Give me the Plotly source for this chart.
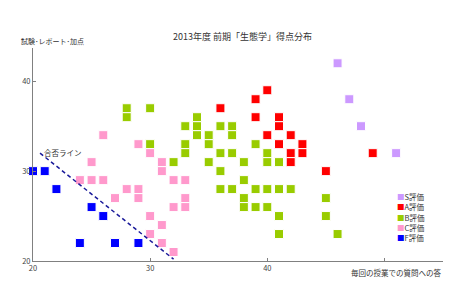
import plotly.graph_objects as go

# ---- data ----
S_x = [46, 47, 48, 51]
S_y = [42, 38, 35, 32]

A_x = [36, 39, 40, 39, 41, 41, 40, 42, 41, 43, 43, 42, 42, 45, 49]
A_y = [37, 38, 39, 36, 36, 35, 34, 34, 33, 33, 32, 32, 31, 30, 32]

B_x = [28, 28, 30, 30, 32, 33, 33, 33, 34, 34, 34, 35, 35, 35, 36, 36, 36, 36, 37, 37, 37, 37,
       38, 38, 38, 38, 39, 39, 39, 40, 40, 40, 40, 41, 41, 41, 41, 42, 45, 45, 46]
B_y = [37, 36, 37, 33, 31, 33, 32, 35, 36, 35, 34, 34, 33, 31, 35, 32, 30, 28, 35, 34, 32, 28,
       31, 29, 27, 26, 33, 28, 26, 32, 31, 28, 26, 31, 28, 25, 23, 28, 27, 25, 23]

C_x = [24, 25, 25, 26, 26, 27, 28, 29, 29, 29, 30, 30, 30, 31, 31, 31, 31, 32, 32, 32, 33, 33, 33]
C_y = [29, 31, 29, 34, 29, 27, 28, 33, 28, 27, 32, 25, 23, 31, 30, 24, 22, 29, 26, 21, 29, 27, 26]

F_x = [20, 21, 22, 25, 26, 24, 27, 29]
F_y = [30, 30, 28, 26, 25, 22, 22, 22]

pass_x = [20.6, 32.0]
pass_y = [32.0, 20.2]

series = [
    ("S評価", S_x, S_y, "#cc99ff"),
    ("A評価", A_x, A_y, "#ff0000"),
    ("B評価", B_x, B_y, "#99cc00"),
    ("C評価", C_x, C_y, "#ff99cc"),
    ("F評価", F_x, F_y, "#0000ff"),
]

x_ticks = [20, 30, 40, 50]
x_ticktext = ["20", "30", "40", ""]
y_ticks = [20, 30, 40]

title_text = "2013年度 前期「生態学」得点分布"
y_title = "試験･レポート･加点"
x_title = "毎回の授業での質問への答"
pass_label = "合否ライン"

FONT = "Noto Sans CJK JP"

fig = go.Figure()
for name, xs, ys, col in series:
    fig.add_trace(go.Scatter(
        x=xs, y=ys, mode="markers", name=name, showlegend=False,
        marker=dict(symbol="square", size=9, color=col, line=dict(width=1, color="white")),
        cliponaxis=False,
    ))

fig.add_trace(go.Scatter(
    x=pass_x, y=pass_y, mode="lines", showlegend=False,
    line=dict(color="#1a1a9a", width=1.5, dash="4px,3px"),
    cliponaxis=False,
))

annotations = [
    dict(text=title_text, xref="paper", yref="paper", x=0.512, y=1.052,
         xanchor="center", yanchor="middle", showarrow=False,
         font=dict(family=FONT, size=9, color="#333")),
    dict(text=y_title, xref="paper", yref="paper", x=-0.034, y=1.033,
         xanchor="left", yanchor="middle", showarrow=False,
         font=dict(family=FONT, size=7, color="#333")),
    dict(text=x_title, xref="paper", yref="paper", x=1.0, y=-0.052,
         xanchor="right", yanchor="middle", showarrow=False,
         font=dict(family=FONT, size=7.5, color="#333")),
    dict(text=pass_label, x=20.75, y=32.1, xref="x", yref="y",
         xanchor="left", yanchor="middle", showarrow=False,
         font=dict(family=FONT, size=7.5, color="#333")),
]

# legend built from annotations (compact spacing like the reference)
leg_x = (395 - 33) / 410
for i, (name, xs, ys, col) in enumerate(series):
    ypix = 196.7 + 10.2 * i
    annotations.append(dict(
        text=f"<span style='color:{col}'>■</span>{name}",
        xref="paper", yref="paper", x=leg_x, y=(261 - ypix) / 213,
        xanchor="left", yanchor="middle", showarrow=False,
        font=dict(family=FONT, size=7.5, color="#333"),
    ))

fig.update_layout(
    width=474, height=295,
    margin=dict(l=33, r=31, t=48, b=34),
    paper_bgcolor="white", plot_bgcolor="white",
    font=dict(family=FONT, size=8, color="#444"),
    annotations=annotations,
    xaxis=dict(range=[20, 55], tickvals=x_ticks, ticktext=x_ticktext,
               showgrid=False, zeroline=False, showline=True, linecolor="#808080",
               linewidth=1, ticks="inside", ticklen=3, tickcolor="#808080",
               tickfont=dict(size=7.5, color="#444")),
    yaxis=dict(range=[20, 43.7], tickvals=y_ticks,
               showgrid=False, zeroline=False, showline=True, linecolor="#808080",
               linewidth=1, ticks="inside", ticklen=3, tickcolor="#808080",
               tickfont=dict(size=7.5, color="#444")),
)

fig.write_html("out.html")
